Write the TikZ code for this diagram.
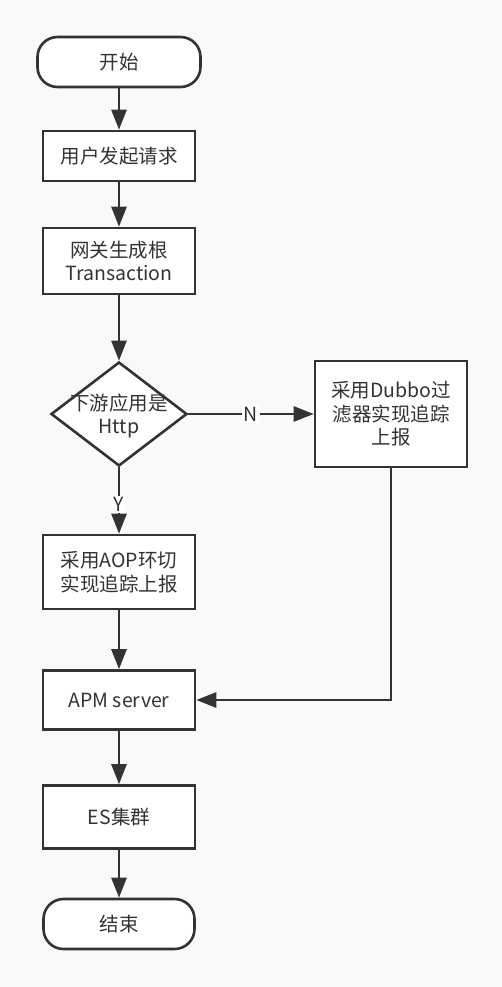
\documentclass[tikz,border=0pt]{standalone}
\usepackage{fontspec}
\setmainfont{Noto Sans CJK SC}
\usepackage{xcolor}
\usetikzlibrary{shapes.geometric,arrows.meta}
\definecolor{bgc}{RGB}{249,249,249}
\definecolor{ln}{RGB}{51,51,51}

\begin{document}
\begin{tikzpicture}[x=1pt,y=1pt,
        every node/.style={font=\fontsize{19.5}{23.5}\selectfont, text=ln},
        box/.style={draw=ln, line width=2.6pt, fill=white, minimum width=152pt, align=center, inner sep=0pt},
        term/.style={box, rounded corners=20pt, minimum height=50pt},
        decision/.style={draw=ln, line width=2.6pt, fill=white, diamond, minimum width=136pt, minimum height=104pt, inner sep=0pt},
        arr/.style={draw=ln, line width=2.6pt, -{Triangle[width=15pt,length=20pt]}},
        lbl/.style={fill=white, inner sep=1.5pt}]
        \useasboundingbox[fill=bgc] (0,0) rectangle (502,-987);

        \node[term, minimum width=163pt] (Start) at (119,-62) {开始};
        \node[box, minimum height=50pt, node distance=94pt, below of=Start] (Req) {用户发起请求};
        \node[box, minimum height=66pt, node distance=105pt, below of=Req] (Root_T) {网关生成根\\Transaction};
        \node[decision, node distance=153pt, below of=Root_T] (Dec) {};
        \node[align=center] (Dec_t) at ([yshift=-2pt]Dec) {下游应用是\\Http};
        \node[box, minimum height=106pt, node distance=272pt, right of=Dec] (Dubbo_R) {采用Dubbo过\\滤器实现追踪\\上报};
        \node[box, minimum height=74pt, node distance=158pt, below of=Dec] (Aop_R) {采用AOP环切\\实现追踪上报};
        \node[box, minimum height=59pt, node distance=128pt, below of=Aop_R] (Apm) {APM server};
        \node[box, minimum height=63pt, node distance=117pt, below of=Apm] (Es) {ES集群};
        \node[term, minimum width=151pt, node distance=107pt, below of=Es] (End) {结束};

        \draw[arr] (Start) -- (Req);
        \draw[arr] (Req) -- (Root_T);
        \draw[arr] (Root_T) -- (Dec);
        \draw[arr] (Dec) -- node[lbl, pos=0.56] {Y} (Aop_R);
        \draw[arr] (Dec) -- node[lbl] {N} (Dubbo_R);
        \draw[arr] (Dubbo_R.south) |- (Apm.east);
        \draw[arr] (Aop_R) -- (Apm);
        \draw[arr] (Apm) -- (Es);
        \draw[arr] (Es) -- (End);
    \end{tikzpicture}
\end{document}
